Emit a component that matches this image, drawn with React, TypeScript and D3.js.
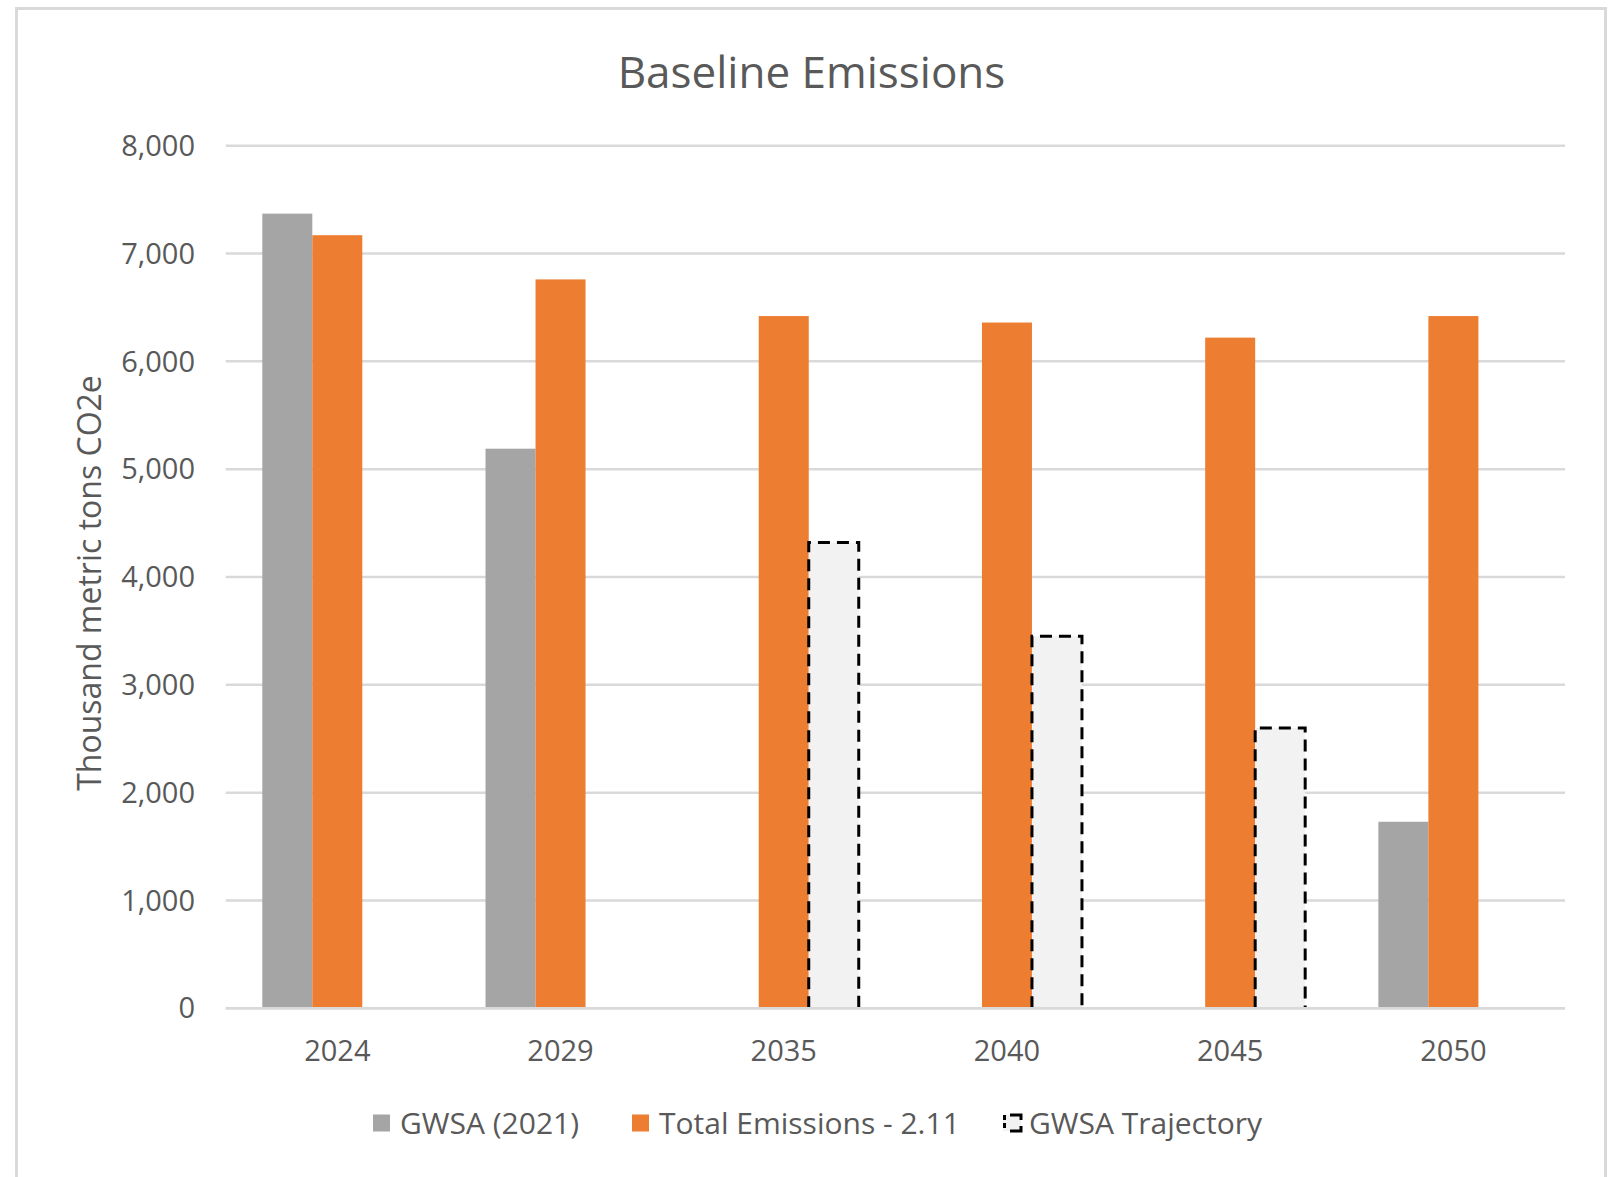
import React from 'react'
import * as d3 from 'd3'

// values (thousand metric tons CO2e)
const years = ['2024', '2029', '2035', '2040', '2045', '2050']
const gwsa2021 = [7370, 5190, null, null, null, 1730]
const totalEmissions = [7170, 6760, 6420, 6360, 6220, 6420]
const gwsaTrajectory = [null, null, 4320, 3450, 2600, null]
const yTicks = [0, 1000, 2000, 3000, 4000, 5000, 6000, 7000, 8000]

const seriesNames = ['GWSA (2021)', 'Total Emissions - 2.11', 'GWSA Trajectory']
const seriesData = [gwsa2021, totalEmissions, gwsaTrajectory]

const W = 1614
const H = 1177
const FONT = '"Open Sans", sans-serif'
const TEXT = '#595959'
const GRID = '#d9d9d9'

const x = d3.scaleBand().domain(years).range([225.7, 1565]).padding(0)
const xInner = d3
  .scaleBand()
  .domain(seriesNames)
  .range([0, x.bandwidth()])
  .paddingInner(0)
  .paddingOuter(0.732)
const y = d3.scaleLinear().domain([0, 8000]).range([1008.3, 145.7])
const fmt = d3.format(',')

const colors = ['#a5a5a5', '#ed7d31', '#f2f2f2']
const legendX = [373, 632, 1002]

export default function App() {
  const bw = xInner.bandwidth()
  return (
    <div style={{ position: 'absolute', left: 0, top: 0 }}>
      <svg width={W} height={H} style={{ display: 'block', background: '#fff' }}>
        <rect x={16.5} y={8.5} width={1589} height={H + 20} fill="#fff" stroke={GRID} strokeWidth={3} />

        <text x={811.5} y={88} textAnchor="middle" fontFamily={FONT} fontSize={44} fill={TEXT}>
          Baseline Emissions
        </text>

        {yTicks.map((t) => (
          <g key={t}>
            <line x1={x.range()[0]} x2={x.range()[1]} y1={y(t)} y2={y(t)} stroke={GRID} strokeWidth={2.5} />
            <text x={195} y={y(t)} dy="0.35em" textAnchor="end" fontFamily={FONT} fontSize={29} fill={TEXT}>
              {fmt(t)}
            </text>
          </g>
        ))}

        {years.map((yr, yi) =>
          seriesData.map((s, si) => {
            const v = s[yi]
            if (v == null) return null
            const bx = (x(yr) ?? 0) + (xInner(seriesNames[si]) ?? 0)
            if (si < 2) {
              return (
                <rect key={yr + si} x={bx} y={y(v)} width={bw} height={y(0) - y(v)} fill={colors[si]} />
              )
            }
            // trajectory: light fill, dashed outline on left/top/right only
            return (
              <g key={yr + si}>
                <rect x={bx} y={y(v)} width={bw} height={y(0) - y(v)} fill={colors[si]} />
                <path
                  d={`M${bx},${y(0)}V${y(v)}H${bx + bw}V${y(0)}`}
                  fill="none"
                  stroke="#000"
                  strokeWidth={3}
                  strokeDasharray="12 7"
                />
              </g>
            )
          })
        )}

        <line x1={x.range()[0]} x2={x.range()[1]} y1={y(0)} y2={y(0)} stroke={GRID} strokeWidth={2.5} />

        {years.map((yr) => (
          <text
            key={yr}
            x={(x(yr) ?? 0) + x.bandwidth() / 2}
            y={1061}
            textAnchor="middle"
            fontFamily={FONT}
            fontSize={29}
            fill={TEXT}
          >
            {yr}
          </text>
        ))}

        <text
          transform="translate(101,583) rotate(-90)"
          textAnchor="middle"
          fontFamily={FONT}
          fontSize={32}
          fill={TEXT}
        >
          Thousand metric tons CO2e
        </text>

        {seriesNames.map((name, i) => (
          <g key={name} transform={`translate(${legendX[i]},1123)`}>
            {i < 2 ? (
              <rect x={0} y={-8.5} width={17} height={17} fill={colors[i]} />
            ) : (
              <g>
                <rect x={1} y={-8} width={18} height={16} fill={colors[i]} />
                <path d="M2.5,-8V8" stroke="#000" strokeWidth={3} strokeDasharray="5 3" />
                <path d="M8,-8H19V-3M8,8H19V3" fill="none" stroke="#000" strokeWidth={3} />
              </g>
            )}
            <text x={27} y={0} dy="0.35em" fontFamily={FONT} fontSize={30} fill={TEXT}>
              {name}
            </text>
          </g>
        ))}
      </svg>
    </div>
  )
}
